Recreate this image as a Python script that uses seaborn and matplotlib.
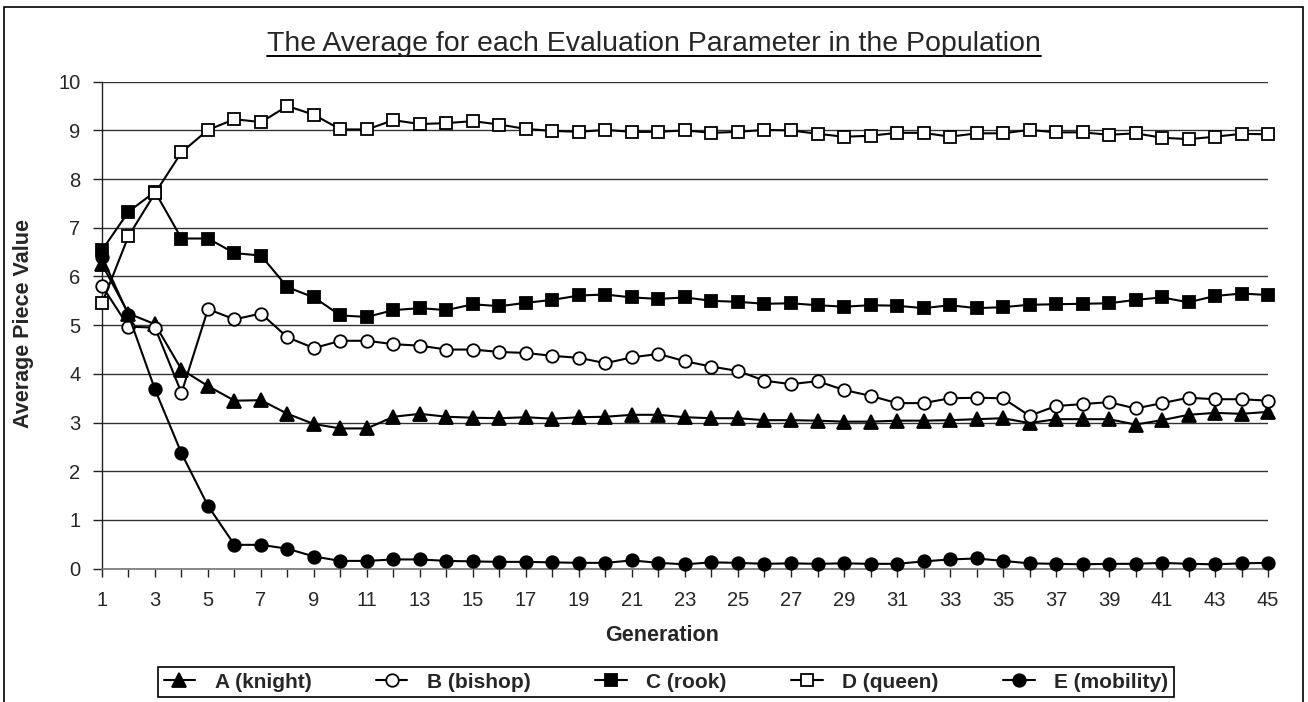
import seaborn as sns
import matplotlib.pyplot as plt
from matplotlib.patches import Rectangle
from matplotlib.lines import Line2D

# Data
generations = list(range(1, 46))
tick_labels = [str(g) if g % 2 == 1 else '' for g in generations]

knight = [6.25, 5.24, 5.02, 4.09, 3.75, 3.45, 3.46, 3.18, 2.97, 2.88,
          2.88, 3.12, 3.18, 3.12, 3.10, 3.09, 3.11, 3.08, 3.11, 3.12,
          3.16, 3.16, 3.11, 3.09, 3.09, 3.05, 3.05, 3.04, 3.02, 3.02,
          3.04, 3.04, 3.05, 3.07, 3.09, 2.99, 3.07, 3.07, 3.07, 2.96,
          3.05, 3.16, 3.20, 3.18, 3.22]
bishop = [5.81, 4.97, 4.95, 3.61, 5.33, 5.12, 5.24, 4.75, 4.53, 4.68,
          4.68, 4.61, 4.58, 4.50, 4.50, 4.45, 4.43, 4.37, 4.33, 4.22,
          4.34, 4.41, 4.26, 4.15, 4.06, 3.86, 3.79, 3.85, 3.67, 3.55,
          3.40, 3.40, 3.50, 3.51, 3.50, 3.14, 3.34, 3.38, 3.42, 3.29,
          3.40, 3.51, 3.48, 3.48, 3.45]
rook = [6.54, 7.33, 7.74, 6.78, 6.78, 6.48, 6.43, 5.78, 5.57, 5.20,
        5.17, 5.31, 5.35, 5.31, 5.43, 5.39, 5.46, 5.52, 5.61, 5.63,
        5.57, 5.54, 5.57, 5.50, 5.48, 5.44, 5.45, 5.41, 5.38, 5.41,
        5.40, 5.35, 5.41, 5.35, 5.37, 5.42, 5.43, 5.44, 5.45, 5.52,
        5.57, 5.47, 5.60, 5.65, 5.62]
queen = [5.45, 6.83, 7.71, 8.55, 9.01, 9.23, 9.17, 9.50, 9.32, 9.02,
         9.02, 9.21, 9.13, 9.15, 9.19, 9.12, 9.03, 8.99, 8.97, 9.01,
         8.97, 8.97, 9.00, 8.95, 8.97, 9.01, 9.00, 8.93, 8.87, 8.89,
         8.95, 8.95, 8.87, 8.94, 8.94, 9.01, 8.96, 8.96, 8.91, 8.94,
         8.85, 8.82, 8.87, 8.93, 8.92]
mobility = [6.40, 5.21, 3.68, 2.37, 1.29, 0.49, 0.49, 0.41, 0.25, 0.16,
            0.16, 0.19, 0.19, 0.16, 0.15, 0.14, 0.14, 0.13, 0.12, 0.12,
            0.17, 0.12, 0.09, 0.13, 0.12, 0.10, 0.11, 0.10, 0.11, 0.10,
            0.10, 0.15, 0.19, 0.21, 0.16, 0.11, 0.10, 0.09, 0.10, 0.10,
            0.12, 0.10, 0.09, 0.11, 0.12]

series_names = ['A (knight)', 'B (bishop)', 'C (rook)', 'D (queen)', 'E (mobility)']
series_values = [knight, bishop, rook, queen, mobility]
series_markers = ['^', 'o', 's', 's', 'o']
series_faces = ['black', 'white', 'black', 'white', 'black']
series_sizes = [9.5, 9, 8.5, 8.5, 9]

sns.set_style('white')
plt.rcParams['font.family'] = ['Liberation Sans', 'DejaVu Sans']

fig = plt.figure(figsize=(13.08, 7.02), dpi=100)
ax = fig.add_axes([0.07798, 0.18989, 0.89144, 0.69373])

for name, vals, mk, fc, ms in zip(series_names, series_values, series_markers,
                                  series_faces, series_sizes):
    sns.lineplot(x=generations, y=vals, ax=ax, color='black', marker=mk,
                 markerfacecolor=fc, markeredgecolor='black', markeredgewidth=1.3,
                 markersize=ms, linewidth=1.5, label=name, clip_on=False, zorder=3)

ax.set_xlim(1, 45)
ax.set_ylim(0, 10)
ax.set_xticks(generations)
ax.set_xticklabels(tick_labels)
ax.set_yticks(range(0, 11))
ax.yaxis.grid(True, color='#333333', linewidth=1.0)
ax.xaxis.grid(False)
for side in ['top', 'right']:
    ax.spines[side].set_visible(False)
ax.spines['left'].set_color('#222222')
ax.spines['bottom'].set_color('#777777')
ax.spines['left'].set_linewidth(1.0)
ax.spines['bottom'].set_linewidth(1.2)
ax.tick_params(axis='y', direction='out', length=6.5, width=1, color='#222222',
               labelsize=14.5, pad=9, left=True)
ax.tick_params(axis='x', direction='out', length=5.8, width=1, color='#222222',
               labelsize=14.5, pad=10, bottom=True)

ax.set_xlabel('Generation', fontsize=15.5, fontweight='bold', va='center')
ax.xaxis.set_label_coords(0.48, -0.138)
ax.set_ylabel('Average Piece Value', fontsize=15.5, fontweight='bold', va='center')
ax.yaxis.set_label_coords(-0.067, 0.5035)

title = fig.text(0.5, 0.9274, 'The Average for each Evaluation Parameter in the Population',
                 ha='center', va='baseline', fontsize=20.5)

leg = ax.legend(loc='center', bbox_to_anchor=(666 / 1308, 1 - 682 / 702),
                bbox_transform=fig.transFigure, ncol=5,
                prop={'weight': 'bold', 'size': 15}, frameon=True, fancybox=False,
                framealpha=1, edgecolor='black', handlelength=1.5,
                handletextpad=0.95, columnspacing=3.1, borderpad=0.25,
                borderaxespad=0)
leg.get_frame().set_linewidth(1.2)

# outer chart border
fig.patches.append(Rectangle((4 / 1308, -0.01), 1299 / 1308, 1 - 7 / 702 + 0.01,
                             transform=fig.transFigure, fill=False,
                             edgecolor='black', linewidth=1.2))

# underline the title
fig.canvas.draw()
bb = title.get_window_extent().transformed(fig.transFigure.inverted())
uy = 1 - 56 / 702
fig.lines.append(Line2D([bb.x0, bb.x1], [uy, uy], transform=fig.transFigure,
                        color='black', linewidth=1.4))

fig.savefig('out.png', dpi=100)
